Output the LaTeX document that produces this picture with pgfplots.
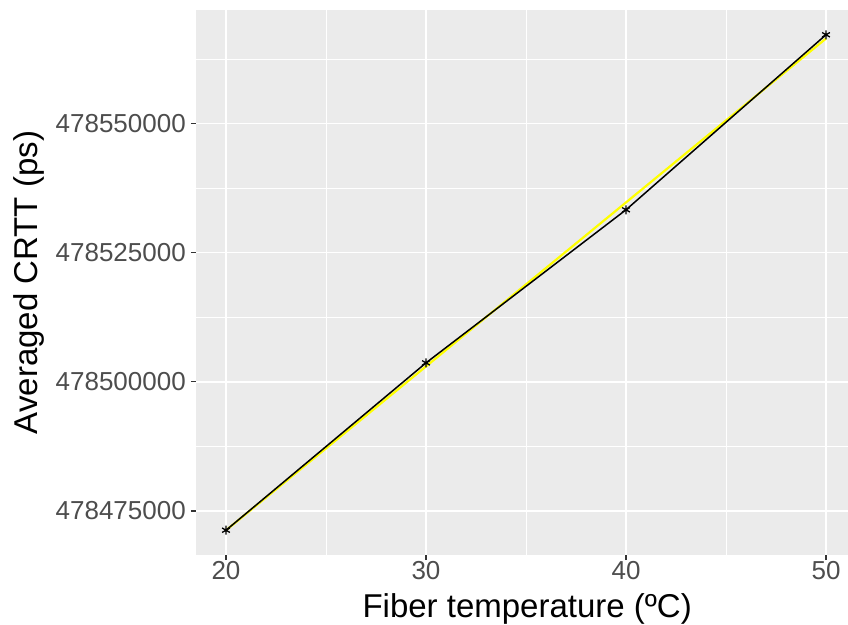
\documentclass[border=0pt]{standalone}
\usepackage{fontspec}
\setmainfont{Liberation Sans}
\usepackage{pgfplots}
\usepackage{pgfplotstable}
\pgfplotsset{compat=1.18}
\definecolor{panelbg}{HTML}{EBEBEB}
\definecolor{ticktext}{HTML}{4D4D4D}
\definecolor{tickcol}{HTML}{333333}
\definecolor{fitcol}{HTML}{FFFF00}
% Averaged CRTT in ps, stored as offset from 478400000 ps (to keep TeX precision)
\pgfplotstableread{
temp crtt
20 71269
30 103673
40 133312
50 167204
}\measured
% least-squares fit line (offset from 478400000 ps)
\pgfplotstableread{
temp crtt
20 71248
50 166481
}\fitline
\begin{document}
\begin{tikzpicture}
\begin{axis}[
  name=ax,
  scale only axis, width=652bp, height=545bp,
  xmin=18.5, xmax=51.1, ymin=66472, ymax=172001,
  axis background/.style={fill=panelbg},
  axis line style={draw=none},
  xtick={20,30,40,50}, minor xtick={25,35,45},
  ytick={75000,100000,125000,150000},
  yticklabels={478475000,478500000,478525000,478550000},
  minor ytick={62500,87500,112500,137500,162500},
  scaled y ticks=false,
  grid=both,
  major grid style={white, line width=1.4bp},
  minor grid style={white, line width=0.7bp},
  tick style={tickcol, line width=1.1bp},
  tick align=outside, major tick length=5bp, minor tick length=0pt,
  xtick pos=bottom, ytick pos=left,
  ticklabel style={font=\fontsize{26bp}{28bp}\selectfont, text=ticktext, inner sep=0pt},
  yticklabel style={xshift=-5bp},
  xticklabel style={yshift=-1bp},
  /pgf/number format/assume math mode=true,
  xlabel={Fiber temperature (ºC)},
  ylabel={Averaged CRTT (ps)},
  label style={font=\fontsize{33bp}{36bp}\selectfont, text=black, inner sep=0pt},
  xlabel style={at={(axis description cs:0.508,0)}, anchor=base, yshift=-62bp},
  ylabel style={at={(axis description cs:0,0.5)}, anchor=base, yshift=158bp},
  clip=true,
]
\addplot[fitcol, line width=2.2bp] table[x=temp, y=crtt] {\fitline};
\addplot[black, line width=1.5bp] table[x=temp, y=crtt] {\measured};
\addplot[only marks, mark=asterisk, mark size=4.5bp, mark options={black, line width=1.3bp}] table[x=temp, y=crtt] {\measured};
\end{axis}
\pgfresetboundingbox
\path ([shift={(-196bp,-70bp)}]ax.south west) rectangle ([shift={(0bp,10bp)}]ax.north east);
\end{tikzpicture}
\end{document}
